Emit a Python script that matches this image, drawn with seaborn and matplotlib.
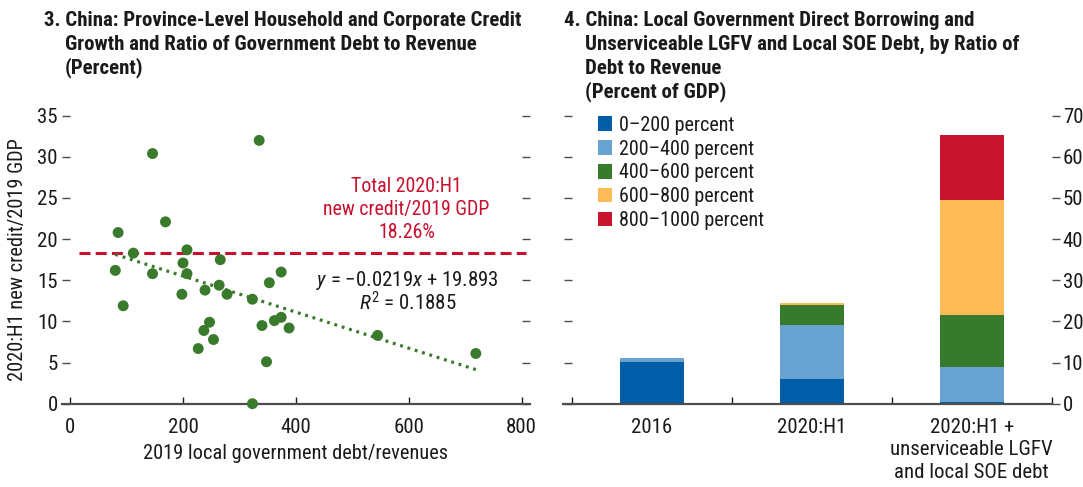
import numpy as np
import pandas as pd
import matplotlib
matplotlib.use("Agg")
import matplotlib.pyplot as plt
from matplotlib.patches import Patch
import seaborn as sns

# ---- Panel 3: province-level credit growth vs. debt/revenue ----
debt_to_revenue = [146, 335, 169, 85, 112, 207, 200, 266, 80, 146, 207,
                   374, 353, 264, 239, 198, 278, 323, 94, 247, 237, 254,
                   227, 340, 362, 374, 388, 348, 323, 545, 719]
new_credit_gdp = [30.4, 32.0, 22.1, 20.8, 18.3, 18.7, 17.1, 17.5, 16.2, 15.8, 15.8,
                  16.0, 14.7, 14.4, 13.8, 13.3, 13.3, 12.7, 11.9, 9.9, 8.9, 7.8,
                  6.7, 9.5, 10.1, 10.5, 9.2, 5.1, 0.0, 8.3, 6.1]
fit_slope = -0.0219
fit_intercept = 19.893
fit_r2 = 0.1885
total_new_credit = 18.26

# ---- Panel 4: borrowing by ratio of debt to revenue ----
periods = ["2016", "2020:H1", "2020:H1 +\nunserviceable LGFV\nand local SOE debt"]
bucket_names = ["0\u2013200 percent", "200\u2013400 percent", "400\u2013600 percent",
                "600\u2013800 percent", "800\u20131000 percent"]
bucket_0_200 = [10.1, 6.0, 0.4]
bucket_200_400 = [1.0, 13.1, 8.5]
bucket_400_600 = [0.0, 4.9, 12.7]
bucket_600_800 = [0.0, 0.5, 27.9]
bucket_800_1000 = [0.0, 0.0, 15.8]

GREEN = "#3a7a2c"
RED = "#c8102e"
BAR_COLORS = ["#005ea8", "#68a2d0", "#387a2b", "#fdbb57", "#c8142f"]
INK = "#1a1a1a"
AXIS = "#4d4d4d"
FONT = "Roboto Condensed"

sns.set_theme(style="white")
plt.rcParams["font.family"] = [FONT, "DejaVu Sans"]
plt.rcParams["mathtext.fontset"] = "custom"
plt.rcParams["mathtext.rm"] = FONT
plt.rcParams["mathtext.it"] = f"{FONT}:italic"
plt.rcParams["text.color"] = INK
plt.rcParams["axes.labelcolor"] = INK
plt.rcParams["xtick.color"] = INK
plt.rcParams["ytick.color"] = INK

W, H = 1083, 487
fig = plt.figure(figsize=(W / 100, H / 100), dpi=100)


def px_axes(x0, x1, y_top, y_bot):
    return fig.add_axes([x0 / W, 1 - y_bot / H, (x1 - x0) / W, (y_bot - y_top) / H])


TICK_FS = 15
LBL_FS = 14.7
NOTE_FS = 14.3
EQ_FS = 15
LEG_FS = 14.5
TITLE_FS = 15

# ---------------- left panel ----------------
ax1 = px_axes(61.7, 530, 115.7, 403.7)
scatter_df = pd.DataFrame({"ratio": debt_to_revenue, "credit": new_credit_gdp})
sns.scatterplot(data=scatter_df, x="ratio", y="credit", ax=ax1, color=GREEN,
                s=62, edgecolor="none", linewidth=0, zorder=4, clip_on=False)

fit_x = np.array([min(debt_to_revenue), max(debt_to_revenue)])
ax1.plot(fit_x, fit_slope * fit_x + fit_intercept, color=GREEN, lw=2.3,
         linestyle=(0, (0.9, 1.5)), zorder=3)
ax1.hlines(total_new_credit, 15, 808, color=RED, lw=2.2,
           linestyle=(0, (3.6, 1.7)), zorder=2)

ax1.set_xlim(-15, 815)
ax1.set_ylim(0, 35)
ax1.set_xticks(range(0, 801, 200))
ax1.set_yticks(range(0, 36, 5))
for side in ("top", "left", "right"):
    ax1.spines[side].set_visible(False)
ax1.spines["left"].set_position(("data", 0))
ax1.spines["right"].set_position(("data", 800))
ax1.spines["bottom"].set_color(AXIS)
ax1.spines["bottom"].set_linewidth(1.6)
ax1.tick_params(axis="y", which="major", left=True, right=True, labelleft=True,
                labelright=False, direction="out", length=6, width=1.0,
                color=AXIS, pad=3, labelsize=TICK_FS)
ax1.tick_params(axis="x", which="major", bottom=True, top=False, direction="in",
                length=5, width=1.0, color=INK, pad=10, labelsize=TICK_FS)
ax1.set_xlabel("2019 local government debt/revenues", fontsize=LBL_FS, labelpad=5)
ax1.set_ylabel("2020:H1 new credit/2019 GDP", fontsize=LBL_FS)
ax1.yaxis.set_label_coords(-0.074, 0.5)
ax1.grid(False)

ax1.text(596, 26.45, "Total 2020:H1", color=RED, fontsize=NOTE_FS, ha="center", va="center")
ax1.text(596, 23.6, "new credit/2019 GDP", color=RED, fontsize=NOTE_FS, ha="center", va="center")
ax1.text(596, 20.75, f"{total_new_credit:.2f}%", color=RED, fontsize=NOTE_FS, ha="center", va="center")
ax1.text(598, 15.0, f"$y$ = \u2212{abs(fit_slope):.4f}$x$ + {fit_intercept:.3f}",
         fontsize=EQ_FS, ha="center", va="center")
ax1.text(598, 12.3, f"$R^2$ = {fit_r2:.4f}", fontsize=EQ_FS, ha="center", va="center")

# ---------------- right panel ----------------
ax2 = px_axes(563.3, 1051.7, 115.7, 403.7)
layers = [bucket_0_200, bucket_200_400, bucket_400_600, bucket_600_800, bucket_800_1000]
cumulative = np.cumsum(np.array(layers), axis=0)
pos = list(range(len(periods)))
# stacked bars: draw cumulative totals from the top layer down
for k in range(len(layers) - 1, -1, -1):
    sns.barplot(x=pos, y=cumulative[k], ax=ax2, color=BAR_COLORS[k], width=0.4,
                saturation=1, linewidth=0, edgecolor="none", order=pos,
                native_scale=True, zorder=2)

ax2.set_xlim(-0.5525, 2.5)
ax2.set_ylim(0, 70)
ax2.set_yticks(range(0, 71, 10))
ax2.set_xticks([-0.5, 0.5, 1.5, 2.5])
ax2.set_xticklabels([])
ax2.set_xticks(pos, minor=True)
ax2.set_xticklabels(periods, minor=True, fontsize=TICK_FS, linespacing=1.25, va="top")
for side in ("top", "left", "right"):
    ax2.spines[side].set_visible(False)
ax2.spines["left"].set_position(("data", -0.5))
ax2.spines["bottom"].set_color(AXIS)
ax2.spines["bottom"].set_linewidth(1.6)
ax2.tick_params(axis="y", which="major", left=True, right=True, labelleft=False,
                labelright=True, direction="out", length=6, width=1.0,
                color=AXIS, pad=2, labelsize=TICK_FS)
ax2.tick_params(axis="x", which="major", bottom=True, top=False, direction="in",
                length=5, width=1.0, color=INK)
ax2.tick_params(axis="x", which="minor", length=0, pad=10, labelsize=TICK_FS)
ax2.set_xlabel("")
ax2.set_ylabel("")
ax2.grid(False)

handles = [Patch(facecolor=c, edgecolor="none") for c in BAR_COLORS]
ax2.legend(handles, bucket_names, loc="upper left", bbox_to_anchor=(0.071, 1.0),
           frameon=False, fontsize=LEG_FS, handlelength=0.72, handleheight=0.72,
           handletextpad=0.3, labelspacing=0.24, borderpad=0, borderaxespad=0)

# ---------------- titles ----------------
def title_lines(x_first, x_rest, baselines, lines):
    for i, (yb, txt) in enumerate(zip(baselines, lines)):
        fig.text((x_first if i == 0 else x_rest) / W, 1 - yb / H, txt,
                 fontsize=TITLE_FS, fontweight="bold", ha="left", va="baseline")


title_lines(44, 65, [26, 49.5, 73],
            ["3. China: Province-Level Household and Corporate Credit",
             "Growth and Ratio of Government Debt to Revenue",
             "(Percent)"])
title_lines(564, 585, [26.5, 50, 73.5, 97],
            ["4. China: Local Government Direct Borrowing and",
             "Unserviceable LGFV and Local SOE Debt, by Ratio of",
             "Debt to Revenue",
             "(Percent of GDP)"])

fig.savefig("out.png", dpi=100)
